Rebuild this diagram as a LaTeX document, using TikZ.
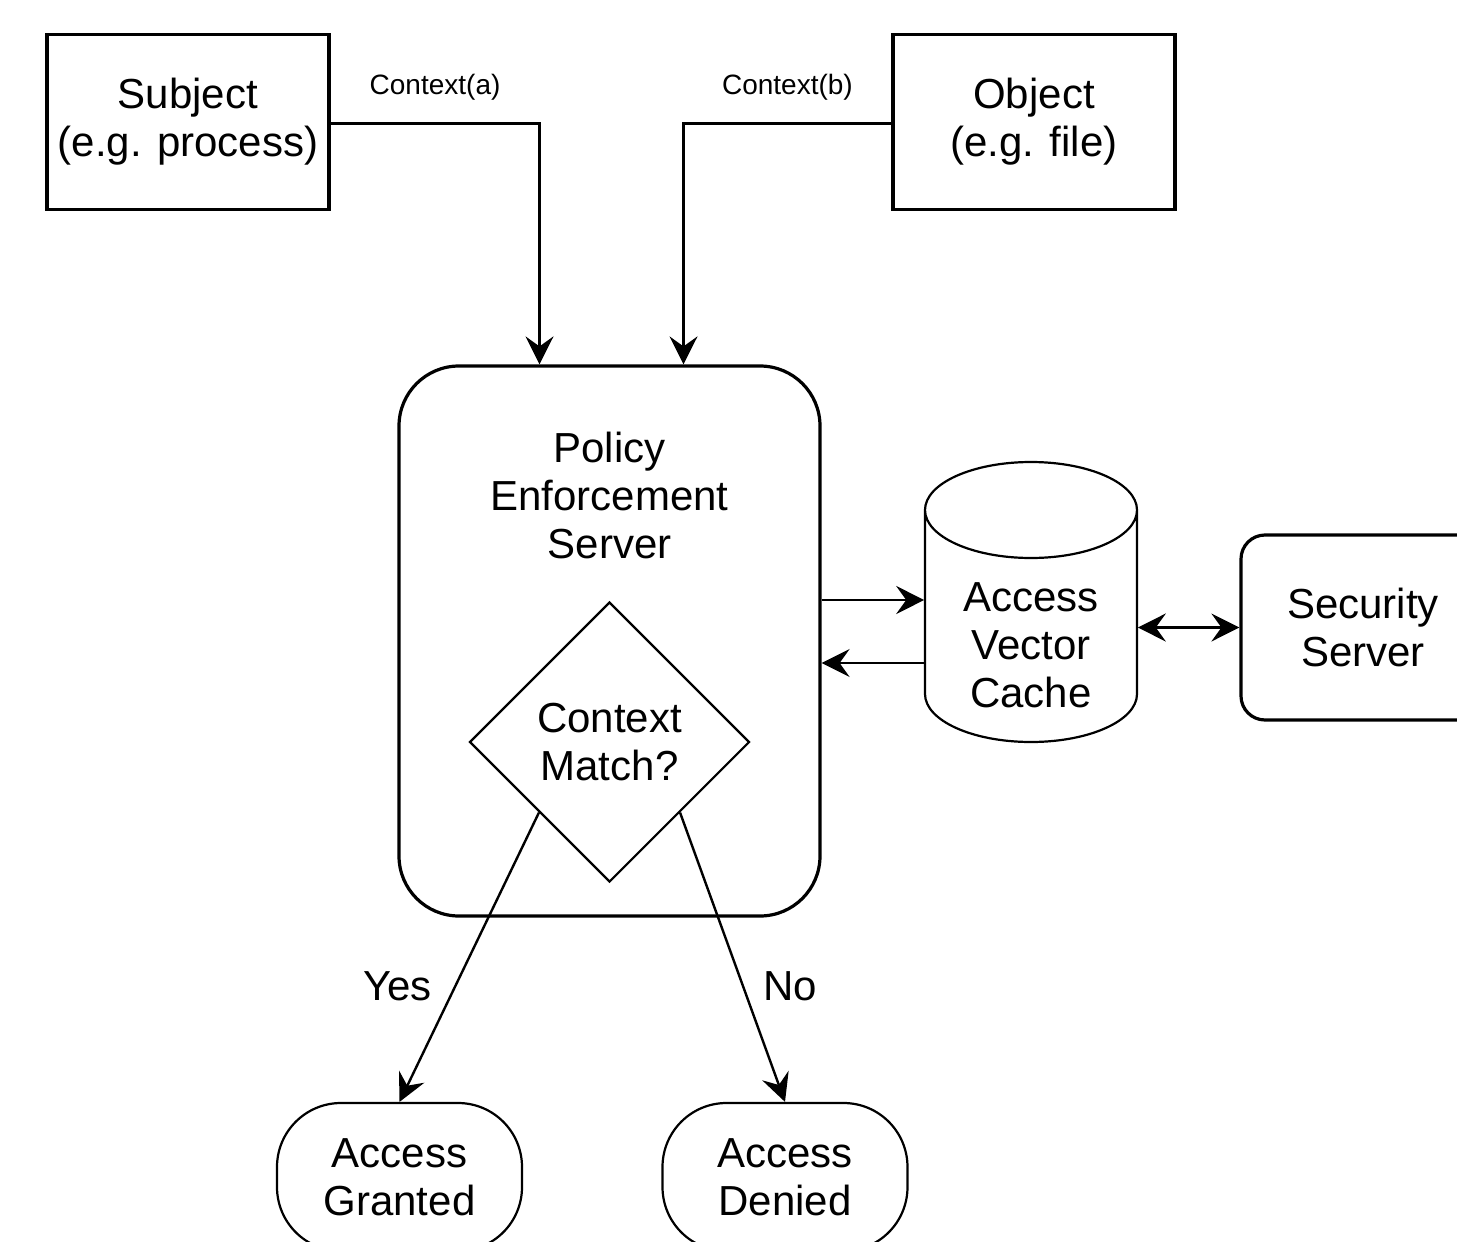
\documentclass[tikz,border=0pt]{standalone}
\usepackage{fontspec}
\setmainfont{Liberation Sans}
\usepackage{tikz}
\usetikzlibrary{shapes.geometric, arrows.meta}
\tikzstyle{arrow} = [line width=0.6pt,-{Stealth[length=7pt,width=7pt,inset=2.5pt]}]
\tikzstyle{dblarrow} = [line width=0.6pt,{Stealth[length=7pt,width=7pt,inset=2.5pt]}-{Stealth[length=7pt,width=7pt,inset=2.5pt]}]
\tikzstyle{box} = [draw, line width=0.8pt, minimum width=70.5pt, minimum height=43.75pt, inner sep=0pt, align=center]
\tikzstyle{server} = [draw, line width=0.8pt, inner sep=0pt, align=center]
\tikzstyle{decision} = [diamond, draw, line width=0.55pt, minimum width=70pt, minimum height=70pt, aspect=1, inner sep=0pt, align=center]
\tikzstyle{terminal} = [draw, line width=0.55pt, minimum width=61.25pt, minimum height=37pt, rounded corners=16pt, inner sep=0pt, align=center]
\tikzstyle{ctx} = [font=\fontsize{7}{8}\selectfont, inner sep=0pt]

\begin{document}
\begin{tikzpicture}[x=0.25pt, y=-0.25pt, font=\fontsize{10.5}{12}\selectfont]
\useasboundingbox (0,0) rectangle (1457,1242);

\node[box] (subject) at (188,122) {Subject\\(e.g. process)};
\node[box] (object) at (1034,122) {Object\\(e.g. file)};

\node[server, minimum width=105.25pt, minimum height=137.5pt, rounded corners=15pt, text depth=73pt] (pes) at (609.5,641) {Policy\\Enforcement\\Server};
\node[decision] (match) at (609.5,742) {Context\\Match?};

% cache drawn as a cylinder round its text
\node[inner sep=0pt, minimum width=53pt, align=center] (avc) at (1031,645) {Access\\Vector\\Cache};
\draw[line width=0.55pt] (925,510) -- (925,694) arc(180:360:26.5pt and 12pt) -- (1137,510) arc(0:180:26.5pt and 12pt) arc(180:360:26.5pt and 12pt);

\node[server, minimum width=61pt, minimum height=46.25pt, rounded corners=6pt] (security) at (1363,627.5) {Security\\Server};

\node[terminal] (granted) at (399.5,1177) {Access\\Granted};
\node[terminal] (denied) at (785,1177) {Access\\Denied};

\draw[arrow] ([yshift=-0.4pt]subject.east) -| node[ctx, pos=0.25, above=5.5pt] {Context(a)} ([xshift=-17.5pt]pes.north);
\draw[arrow] ([yshift=-0.4pt]object.west) -| node[ctx, pos=0.25, above=5.5pt] {Context(b)} ([xshift=18.5pt]pes.north);
\draw[arrow] ([yshift=10.25pt]pes.east) -- ([yshift=10.25pt]pes.east -| avc.west);
\draw[arrow] ([yshift=-5.5pt]pes.east -| avc.west) -- ([yshift=-5.5pt]pes.east);
\draw[dblarrow] (security.west -| avc.east) -- (security.west);
\draw[arrow] (match.south west) -- node[pos=0.6, left=2.25pt] {Yes} (granted.north);
\draw[arrow] (match.south east) -- node[pos=0.6, right=1.5pt] {No} (denied.north);
\end{tikzpicture}
\end{document}
